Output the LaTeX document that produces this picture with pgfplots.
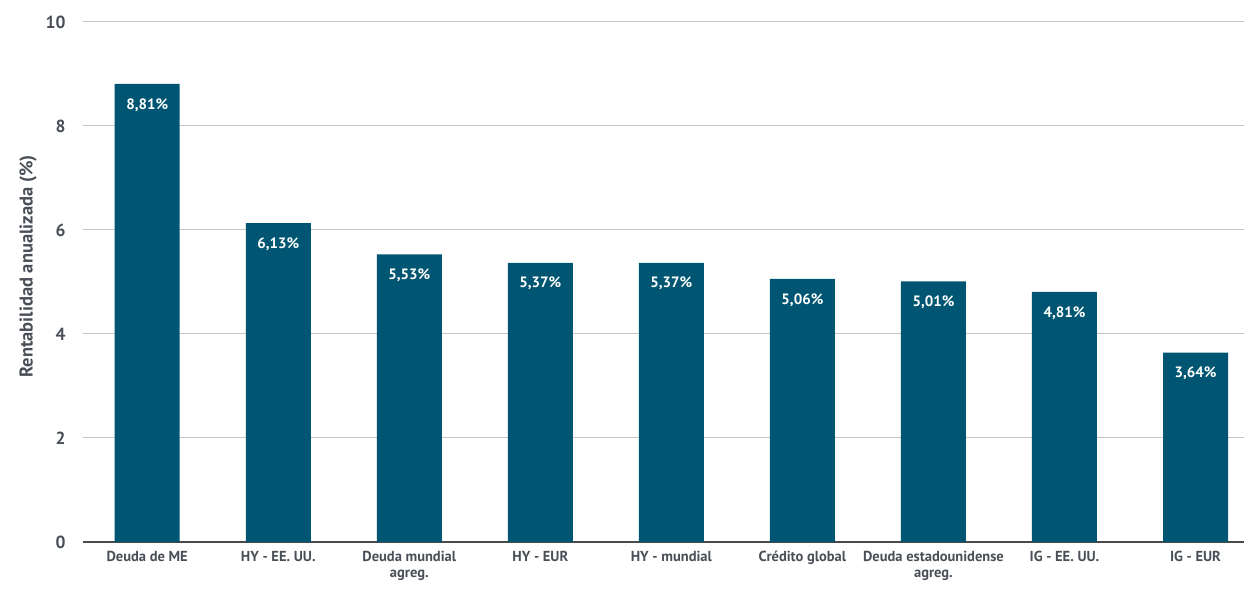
\documentclass[border=0pt]{standalone}
\usepackage{fontspec}
\setmainfont{PT Sans}
\usepackage{pgfplots}
\pgfplotsset{compat=1.18}
\definecolor{barc}{HTML}{005672}
\definecolor{txt}{HTML}{4A4F57}
\definecolor{gridc}{HTML}{C4C4C4}
\definecolor{axc}{HTML}{4A4A4A}
\begin{document}
\begin{tikzpicture}
\path[use as bounding box] (-83bp,-55bp) rectangle (1161bp,542bp);
\begin{axis}[
  at={(0,0)}, anchor=south west,
  scale only axis, width=1161bp, height=520bp,
  /pgf/number format/assume math mode=true,
  ymin=0, ymax=10, ytick={0,2,4,6,8,10},
  yticklabel={\textbf{\pgfmathprintnumber{\tick}}},
  xmin=-0.49, xmax=8.37,
  xtick=data,
  xticklabels={Deuda de ME, HY - EE. UU., {Deuda mundial\\agreg.}, HY - EUR, HY - mundial, Crédito global, {Deuda estadounidense\\agreg.}, IG - EE. UU., IG - EUR},
  xticklabel style={align=center, font=\fontsize{14.5bp}{16bp}\selectfont\bfseries, text=txt, yshift=-6bp},
  yticklabel style={font=\fontsize{17.5bp}{18bp}\selectfont\bfseries, text=txt, xshift=-14bp},
  major tick length=0pt,
  axis x line*=bottom, axis y line*=left,
  x axis line style={axc, line width=1.8bp},
  y axis line style={draw=none},
  ymajorgrids, grid style={gridc, line width=1bp},
  ylabel={\textbf{Rentabilidad anualizada (\%)}},
  ylabel style={at={(ticklabel cs:0.53)}, font=\fontsize{18.5bp}{19bp}\selectfont\bfseries, text=txt, yshift=2bp},
  ybar, bar width=65bp,
  nodes near coords={\textbf{\pgfmathprintnumber[fixed,fixed zerofill,precision=2,use comma]{\pgfplotspointmeta}\%}},
  nodes near coords style={anchor=north, yshift=-11bp, text=white, font=\fontsize{15bp}{16bp}\selectfont\bfseries},
]
\addplot[fill=barc, draw=none] coordinates {(0,8.81) (1,6.13) (2,5.53) (3,5.37) (4,5.37) (5,5.06) (6,5.01) (7,4.81) (8,3.64)};
\end{axis}
\end{tikzpicture}
\end{document}
